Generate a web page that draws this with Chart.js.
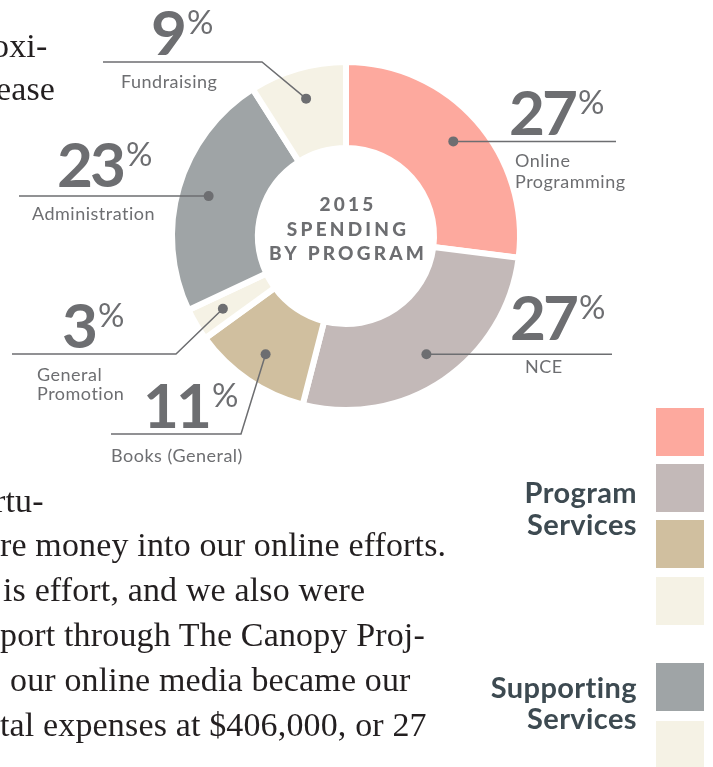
<!DOCTYPE html>
<html>
<head>
<meta charset="utf-8">
<script src="https://cdn.jsdelivr.net/npm/chart.js@4"></script>
<style>
  html, body { margin: 0; padding: 0; background: #fff; }
  body { width: 713px; height: 767px; position: relative; overflow: hidden; }
  #spendingChart { position: absolute; left: 0; top: 0; }
  .body-copy {
    position: absolute; white-space: pre;
    font-family: "Liberation Serif", serif; font-size: 34px; line-height: 44.8px; color: #231f20;
    letter-spacing: 0.15px;
  }
  .group-title {
    position: absolute; right: 76px; text-align: right;
    font-family: Lato, sans-serif; font-weight: 700; font-size: 29px; letter-spacing: 0.4px; color: #3d4a51;
  }
</style>
</head>
<body>
<canvas id="spendingChart" width="713" height="767"></canvas>

<div class="body-copy" style="top:24px; left:-8px">oxi-</div>
<div class="body-copy" style="top:67px; left:-4px">ease</div>

<div class="body-copy" style="top:479px; left:-6px">rtu-</div>
<div class="body-copy" style="top:523px; left:0px">re money into our online efforts.</div>
<div class="body-copy" style="top:568px; left:3px">is effort, and we also were</div>
<div class="body-copy" style="top:613px; left:0px">port through The Canopy Proj-</div>
<div class="body-copy" style="top:658px; left:10px">our online media became our</div>
<div class="body-copy" style="top:703px; left:0px">tal expenses at $406,000, or 27</div>

<div class="group-title" style="top:476px; line-height:32px">Program<br>Services</div>
<div class="group-title" style="top:671px; line-height:31px">Supporting<br>Services</div>

<script>
// Chart data
const categories = ["Online Programming", "NCE", "Books (General)", "General Promotion", "Administration", "Fundraising"];
const shares = [27, 27, 11, 3, 23, 9];
const sliceColors = ["#fda99e", "#c3b9b8", "#d0bf9f", "#f5f2e5", "#9fa4a6", "#f5f2e5"];
const labelLines = [["Online", "Programming"], ["NCE"], ["Books (General)"], ["General", "Promotion"], ["Administration"], ["Fundraising"]];
const centerTitle = ["2015", "SPENDING", "BY PROGRAM"];

// Callout layout (where the number and caption sit, where the leader bends)
const callouts = [
  { elbow: null, endX: 616, numX: 509, numY: 135, textX: 515, textY: [167, 188] },
  { elbow: null, endX: 612, numX: 510, numY: 340, textX: 525, textY: [373] },
  { elbow: [241, 434], endX: 111, numX: 143, numY: 428, textX: 111, textY: [462] },
  { elbow: [176, 354], endX: 12, numX: 62, numY: 348, textX: 37, textY: [381, 400] },
  { elbow: null, endX: 19, numX: 57, numY: 187, textX: 32, textY: [220] },
  { elbow: [262, 62], endX: 103, numX: 151, numY: 55, textX: 121, textY: [88] }
];
const legendY = [408, 464, 520, 577, 663, 721];

const GREY = "#6d6e71";

const calloutPlugin = {
  id: "callouts",
  afterDraw(chart) {
    const ctx = chart.ctx;
    const arcs = chart.getDatasetMeta(0).data;
    ctx.save();

    // centre title
    const c = arcs[0];
    ctx.fillStyle = GREY;
    ctx.font = "900 19px Lato";
    ctx.letterSpacing = "3.2px";
    ctx.textAlign = "center";
    ctx.textBaseline = "middle";
    centerTitle.forEach((t, i) => ctx.fillText(t, c.x + 2, c.y - 31 + i * 24.5));
    ctx.letterSpacing = "0px";
    ctx.textAlign = "left";

    arcs.forEach((arc, i) => {
      const mid = (arc.startAngle + arc.endAngle) / 2;
      const r = arc.innerRadius + (arc.outerRadius - arc.innerRadius) * 0.64;
      const dx = arc.x + Math.cos(mid) * r;
      const dy = arc.y + Math.sin(mid) * r;
      const lay = callouts[i];

      // leader line
      ctx.strokeStyle = GREY;
      ctx.lineWidth = 1.5;
      ctx.beginPath();
      ctx.moveTo(dx, dy);
      let lineY = dy;
      if (lay.elbow) {
        ctx.lineTo(lay.elbow[0], lay.elbow[1]);
        lineY = lay.elbow[1];
      }
      ctx.lineTo(lay.endX, lineY);
      ctx.stroke();

      // dot
      ctx.fillStyle = GREY;
      ctx.beginPath();
      ctx.arc(dx, dy, 5, 0, Math.PI * 2);
      ctx.fill();

      // percentage
      ctx.textBaseline = "alphabetic";
      ctx.font = "700 62px Lato";
      ctx.letterSpacing = "-3px";
      const num = String(shares[i]);
      ctx.fillText(num, lay.numX, lay.numY);
      const w = ctx.measureText(num).width;
      ctx.letterSpacing = "0px";
      ctx.font = "400 33px Lato";
      ctx.textBaseline = "top";
      ctx.fillText("%", lay.numX + w + 3, lay.numY - 48);

      // caption
      ctx.textBaseline = "alphabetic";
      ctx.font = "400 18px Lato";
      ctx.letterSpacing = "0.5px";
      labelLines[i].forEach((t, k) => ctx.fillText(t, lay.textX, lay.textY[k]));
      ctx.letterSpacing = "0px";
    });

    // legend swatches
    sliceColors.forEach((col, i) => {
      ctx.fillStyle = col;
      ctx.fillRect(656, legendY[i], 48, 48);
    });
    ctx.restore();
  }
};

new Chart(document.getElementById("spendingChart"), {
  type: "doughnut",
  data: {
    labels: categories,
    datasets: [{
      data: shares,
      backgroundColor: sliceColors,
      borderColor: "#ffffff",
      borderWidth: 6,
      borderJoinStyle: "miter"
    }]
  },
  options: {
    responsive: false,
    animation: false,
    events: [],
    cutout: 88,
    layout: { padding: { left: 169, top: 59, right: 190, bottom: 354 } },
    plugins: {
      legend: { display: false },
      tooltip: { enabled: false }
    }
  },
  plugins: [calloutPlugin]
});
</script>
</body>
</html>
